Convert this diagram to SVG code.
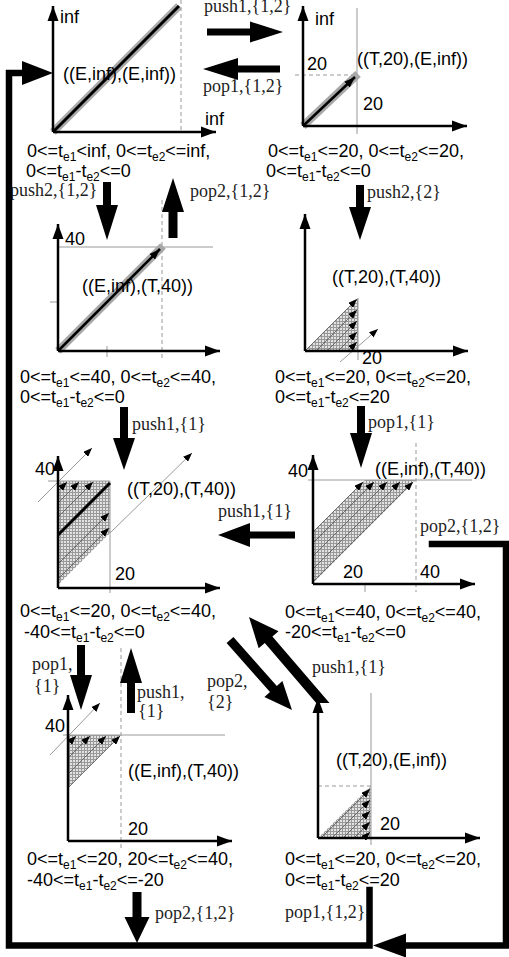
<svg xmlns="http://www.w3.org/2000/svg" width="509" height="957" viewBox="0 0 509 957">
<style>
.t{font-family:"Liberation Sans",Arial,sans-serif;font-size:18px;fill:#000}
.s{font-family:"Liberation Serif","Times New Roman",serif;font-size:18px;fill:#222}
.sub{font-size:12px}
.ax{stroke:#000;stroke-width:2.5;fill:none;marker-end:url(#ax)}
.g{stroke:#999;stroke-width:1;fill:none}
.d{stroke:#999;stroke-width:1;fill:none;stroke-dasharray:4 3}
.in{stroke:#555;stroke-width:0.8;fill:none;marker-end:url(#sa)}
.out{stroke:#999;stroke-width:1;fill:none;marker-end:url(#sa)}
.band{stroke:#a8a8a8;stroke-width:8;fill:none}
.bl{stroke:#000;stroke-width:3;fill:none}
.hat{fill:url(#h);stroke:none}
.big{fill:#000;stroke:none}
.loop{stroke:#000;stroke-width:6.5;fill:none;stroke-linejoin:miter;stroke-linecap:square}
</style>
<defs>
<marker id="ax" markerUnits="userSpaceOnUse" markerWidth="16" markerHeight="12" refX="15" refY="6" orient="auto"><path d="M0,0.5L15,6L0,11.5z" fill="#000"/></marker>
<marker id="sa" markerUnits="userSpaceOnUse" markerWidth="9" markerHeight="7" refX="9" refY="3.5" orient="auto"><path d="M0,0L9,3.5L0,7z" fill="#000"/></marker>
<marker id="ma" markerUnits="userSpaceOnUse" markerWidth="11" markerHeight="8" refX="11" refY="4" orient="auto"><path d="M0,0L11,4L0,8z" fill="#000"/></marker>
<pattern id="h" width="3" height="3" patternUnits="userSpaceOnUse"><rect width="3" height="3" fill="#e2e2e2"/><path d="M0,0.5H3M0.5,0V3" stroke="#999" stroke-width="1"/></pattern>
</defs>
<rect width="509" height="957" fill="#fff"/>

<g id="n1">
<line class="d" x1="181" y1="0" x2="181" y2="132"/>
<line class="band" x1="53" y1="132" x2="179" y2="6"/>
<line class="bl" x1="53" y1="132" x2="179" y2="6"/>
<line class="ax" x1="53" y1="132" x2="53" y2="6"/>
<line class="ax" x1="53" y1="132" x2="216" y2="132"/>
<text class="t" x="60" y="23">inf</text>
<text class="t" x="205" y="125">inf</text>
<text class="t" x="63" y="80">((E,inf),(E,inf))</text>
<text class="t" x="27" y="157">0&lt;=t<tspan class="sub" dy="4">e1</tspan><tspan dy="-4">&lt;inf, 0&lt;=t</tspan><tspan class="sub" dy="4">e2</tspan><tspan dy="-4">&lt;=inf,</tspan></text>
<text class="t" x="26" y="177">0&lt;=t<tspan class="sub" dy="4">e1</tspan><tspan dy="-4">-t</tspan><tspan class="sub" dy="4">e2</tspan><tspan dy="-4">&lt;=0</tspan></text>
</g>

<g id="n2">
<line class="g" x1="357" y1="8" x2="357" y2="134"/>
<line class="d" x1="295" y1="75" x2="357" y2="75"/>
<line class="band" x1="303" y1="126" x2="358" y2="74"/>
<line stroke="#000" stroke-width="2.5" marker-end="url(#ma)" x1="303" y1="126" x2="355" y2="77"/>
<line class="ax" x1="303" y1="126" x2="303" y2="6"/>
<line class="ax" x1="303" y1="126" x2="467" y2="126"/>
<text class="t" x="315" y="25">inf</text>
<text class="t" x="307" y="70">20</text>
<text class="t" x="357" y="65">((T,20),(E,inf))</text>
<text class="t" x="363" y="110">20</text>
<text class="t" x="268" y="157">0&lt;=t<tspan class="sub" dy="4">e1</tspan><tspan dy="-4">&lt;=20, 0&lt;=t</tspan><tspan class="sub" dy="4">e2</tspan><tspan dy="-4">&lt;=20,</tspan></text>
<text class="t" x="266" y="177">0&lt;=t<tspan class="sub" dy="4">e1</tspan><tspan dy="-4">-t</tspan><tspan class="sub" dy="4">e2</tspan><tspan dy="-4">&lt;=0</tspan></text>
</g>

<g id="n3">
<line class="g" x1="58" y1="247" x2="213" y2="247"/>
<line class="d" x1="162" y1="200" x2="162" y2="358"/>
<line class="g" x1="50" y1="302" x2="58" y2="302"/>
<line class="g" x1="107" y1="346" x2="107" y2="357"/>
<line class="band" x1="58" y1="351" x2="163" y2="246"/>
<line stroke="#000" stroke-width="2.5" marker-end="url(#ma)" x1="58" y1="351" x2="160" y2="249"/>
<line class="ax" x1="58" y1="351" x2="58" y2="224"/>
<line class="ax" x1="58" y1="351" x2="220" y2="351"/>
<text class="t" x="65" y="245">40</text>
<text class="t" x="82" y="292">((E,inf),(T,40))</text>
<text class="t" x="20" y="383">0&lt;=t<tspan class="sub" dy="4">e1</tspan><tspan dy="-4">&lt;=40, 0&lt;=t</tspan><tspan class="sub" dy="4">e2</tspan><tspan dy="-4">&lt;=40,</tspan></text>
<text class="t" x="20" y="403">0&lt;=t<tspan class="sub" dy="4">e1</tspan><tspan dy="-4">-t</tspan><tspan class="sub" dy="4">e2</tspan><tspan dy="-4">&lt;=0</tspan></text>
</g>

<g id="n4">
<polygon class="hat" points="305,351 358,298 358,351"/>
<line class="g" x1="358" y1="298" x2="358" y2="360"/>
<line class="in" x1="305" y1="351" x2="357" y2="299"/>
<line class="in" x1="316" y1="351" x2="357" y2="310"/>
<line class="in" x1="327" y1="351" x2="357" y2="321"/>
<line class="in" x1="338" y1="351" x2="357" y2="332"/>
<line class="in" x1="348" y1="351" x2="357" y2="342"/>
<line class="out" x1="340" y1="362" x2="378" y2="329"/>
<line class="ax" x1="305" y1="351" x2="305" y2="214"/>
<line class="ax" x1="305" y1="351" x2="468" y2="351"/>
<text class="t" x="332" y="283">((T,20),(T,40))</text>
<text class="t" x="362" y="364">20</text>
<text class="t" x="275" y="383">0&lt;=t<tspan class="sub" dy="4">e1</tspan><tspan dy="-4">&lt;=20, 0&lt;=t</tspan><tspan class="sub" dy="4">e2</tspan><tspan dy="-4">&lt;=20,</tspan></text>
<text class="t" x="275" y="403">0&lt;=t<tspan class="sub" dy="4">e1</tspan><tspan dy="-4">-t</tspan><tspan class="sub" dy="4">e2</tspan><tspan dy="-4">&lt;=20</tspan></text>
</g>

<g id="n5">
<polygon class="hat" points="58,481 110,481 110,533 58,585"/>
<line class="g" x1="48" y1="481" x2="110" y2="481"/>
<line class="g" x1="110" y1="481" x2="110" y2="593"/>
<line class="in" x1="58" y1="491" x2="67" y2="482"/>
<line class="in" x1="58" y1="503" x2="79" y2="482"/>
<line class="in" x1="58" y1="517" x2="93" y2="482"/>
<line class="in" x1="58" y1="564" x2="109" y2="513"/>
<line class="in" x1="58" y1="579" x2="109" y2="528"/>
<line class="bl" x1="58" y1="535" x2="110" y2="483"/>
<line class="out" x1="38" y1="502" x2="92" y2="448"/>
<line class="out" x1="110" y1="533" x2="192" y2="453"/>
<line class="ax" x1="58" y1="588" x2="58" y2="456"/>
<line class="ax" x1="58" y1="588" x2="220" y2="588"/>
<text class="t" x="35" y="475">40</text>
<text class="t" x="127" y="495">((T,20),(T,40))</text>
<text class="t" x="115" y="580">20</text>
<text class="t" x="20" y="617">0&lt;=t<tspan class="sub" dy="4">e1</tspan><tspan dy="-4">&lt;=20, 0&lt;=t</tspan><tspan class="sub" dy="4">e2</tspan><tspan dy="-4">&lt;=40,</tspan></text>
<text class="t" x="24" y="638">-40&lt;=t<tspan class="sub" dy="4">e1</tspan><tspan dy="-4">-t</tspan><tspan class="sub" dy="4">e2</tspan><tspan dy="-4">&lt;=0</tspan></text>
</g>

<g id="n6">
<polygon class="hat" points="313,532 365,480 416,480 313,583"/>
<line class="g" x1="308" y1="480" x2="472" y2="480"/>
<line class="d" x1="416" y1="443" x2="416" y2="592"/>
<line class="g" x1="365" y1="584" x2="365" y2="592"/>
<line class="in" x1="313" y1="532" x2="363" y2="482"/>
<line class="in" x1="313" y1="543" x2="374" y2="482"/>
<line class="in" x1="313" y1="556" x2="387" y2="482"/>
<line class="in" x1="313" y1="569" x2="400" y2="482"/>
<line class="in" x1="313" y1="582" x2="413" y2="482"/>
<line class="ax" x1="313" y1="584" x2="313" y2="455"/>
<line class="ax" x1="313" y1="584" x2="475" y2="584"/>
<text class="t" x="288" y="477">40</text>
<text class="t" x="375" y="475">((E,inf),(T,40))</text>
<text class="t" x="343" y="578">20</text>
<text class="t" x="420" y="578">40</text>
<text class="t" x="285" y="618">0&lt;=t<tspan class="sub" dy="4">e1</tspan><tspan dy="-4">&lt;=40, 0&lt;=t</tspan><tspan class="sub" dy="4">e2</tspan><tspan dy="-4">&lt;=40,</tspan></text>
<text class="t" x="285" y="638">-20&lt;=t<tspan class="sub" dy="4">e1</tspan><tspan dy="-4">-t</tspan><tspan class="sub" dy="4">e2</tspan><tspan dy="-4">&lt;=0</tspan></text>
</g>

<g id="n7">
<polygon class="hat" points="68,735 121,735 68,788"/>
<line class="g" x1="63" y1="735" x2="225" y2="735"/>
<line class="d" x1="121" y1="648" x2="121" y2="848"/>
<line class="in" x1="68" y1="744" x2="76" y2="736"/>
<line class="in" x1="68" y1="758" x2="90" y2="736"/>
<line class="in" x1="68" y1="774" x2="106" y2="736"/>
<line class="in" x1="68" y1="788" x2="120" y2="736"/>
<line class="out" x1="50" y1="755" x2="100" y2="703"/>
<line class="ax" x1="68" y1="841" x2="68" y2="695"/>
<line class="ax" x1="68" y1="841" x2="232" y2="841"/>
<text class="t" x="45" y="732">40</text>
<text class="t" x="128" y="777">((E,inf),(T,40))</text>
<text class="t" x="128" y="835">20</text>
<text class="t" x="27" y="865">0&lt;=t<tspan class="sub" dy="4">e1</tspan><tspan dy="-4">&lt;=20, 20&lt;=t</tspan><tspan class="sub" dy="4">e2</tspan><tspan dy="-4">&lt;=40,</tspan></text>
<text class="t" x="27" y="886">-40&lt;=t<tspan class="sub" dy="4">e1</tspan><tspan dy="-4">-t</tspan><tspan class="sub" dy="4">e2</tspan><tspan dy="-4">&lt;=-20</tspan></text>
</g>

<g id="n8">
<polygon class="hat" points="318,838 371,786 371,838"/>
<line class="g" x1="371" y1="693" x2="371" y2="845"/>
<line class="d" x1="318" y1="786" x2="371" y2="786"/>
<line class="in" x1="321" y1="838" x2="370" y2="789"/>
<line class="in" x1="332" y1="838" x2="370" y2="800"/>
<line class="in" x1="343" y1="838" x2="370" y2="811"/>
<line class="in" x1="354" y1="838" x2="370" y2="822"/>
<line class="in" x1="364" y1="838" x2="370" y2="832"/>
<line class="ax" x1="318" y1="838" x2="318" y2="698"/>
<line class="ax" x1="318" y1="838" x2="480" y2="838"/>
<text class="t" x="336" y="766">((T,20),(E,inf))</text>
<text class="t" x="380" y="830">20</text>
<text class="t" x="285" y="865">0&lt;=t<tspan class="sub" dy="4">e1</tspan><tspan dy="-4">&lt;=20, 0&lt;=t</tspan><tspan class="sub" dy="4">e2</tspan><tspan dy="-4">&lt;=20,</tspan></text>
<text class="t" x="285" y="886">0&lt;=t<tspan class="sub" dy="4">e1</tspan><tspan dy="-4">-t</tspan><tspan class="sub" dy="4">e2</tspan><tspan dy="-4">&lt;=20</tspan></text>
</g>

<g id="connectors">
<polygon class="big" points="207,28.5 250,28.5 250,21.5 283,32 250,42.5 250,35.5 207,35.5"/>
<text class="s" x="204" y="12">push1,{1,2}</text>
<polygon class="big" points="280,65.5 238,65.5 238,58 203,69 238,80 238,72.5 280,72.5"/>
<text class="s" x="203" y="92">pop1,{1,2}</text>
<polygon class="big" points="103,182 111,182 111,205 118,205 107,240 96,205 103,205"/>
<text class="s" x="10" y="196">push2,{1,2}</text>
<polygon class="big" points="168.5,238 177.5,238 177.5,212 184,212 173,178 162,212 168.5,212"/>
<text class="s" x="190" y="197">pop2,{1,2}</text>
<polygon class="big" points="356,185 364,185 364,207 371,207 360,240 349,207 356,207"/>
<text class="s" x="367" y="198">push2,{2}</text>
<polygon class="big" points="120,407 128,407 128,438 135,438 124,470 113,438 120,438"/>
<text class="s" x="132" y="430">push1,{1}</text>
<polygon class="big" points="357,406 365,406 365,433 372,433 361,468 350,433 357,433"/>
<text class="s" x="368" y="428">pop1,{1}</text>
<polygon class="big" points="295,531.5 250,531.5 250,523 218,535 250,547 250,538.5 295,538.5"/>
<text class="s" x="218" y="517">push1,{1}</text>
<polyline class="loop" points="432,544 506,544 506,945.5 405,945.5"/>
<polygon class="big" points="406,933.5 373,945.5 406,957.5"/>
<text class="s" x="420" y="532">pop2,{1,2}</text>
<polygon class="big" points="77,645 85,645 85,675 92,675 81,710 70,675 77,675"/>
<text class="s" x="32" y="670">pop1,</text>
<text class="s" x="34" y="692">{1}</text>
<polygon class="big" points="127,713 135,713 135,683 142,683 131,648 120,683 127,683"/>
<text class="s" x="137" y="698">push1,</text>
<text class="s" x="138" y="717">{1}</text>
<polygon class="big" points="233.4,637 276.8,686 282.4,681 292,710 264.4,697 270,692 226.6,643"/>
<text class="s" x="207" y="687">pop2,</text>
<text class="s" x="207" y="708">{2}</text>
<polygon class="big" points="329.5,703 272.4,636.5 278.5,631.3 249,617 258.7,648.3 264.8,643.1 316.2,703"/>
<text class="s" x="312" y="673">push1,{1}</text>
<polygon class="big" points="132.5,892 141.5,892 141.5,917 149.5,917 137,943 124.5,917 132.5,917"/>
<text class="s" x="155" y="919">pop2,{1,2}</text>
<polyline class="loop" points="369.5,890 369.5,945.5 9,945.5 9,73 22,73"/>
<polygon class="big" points="22,61 53,73 22,85"/>
<text class="s" x="285" y="918">pop1,{1,2}</text>
</g>
</svg>
